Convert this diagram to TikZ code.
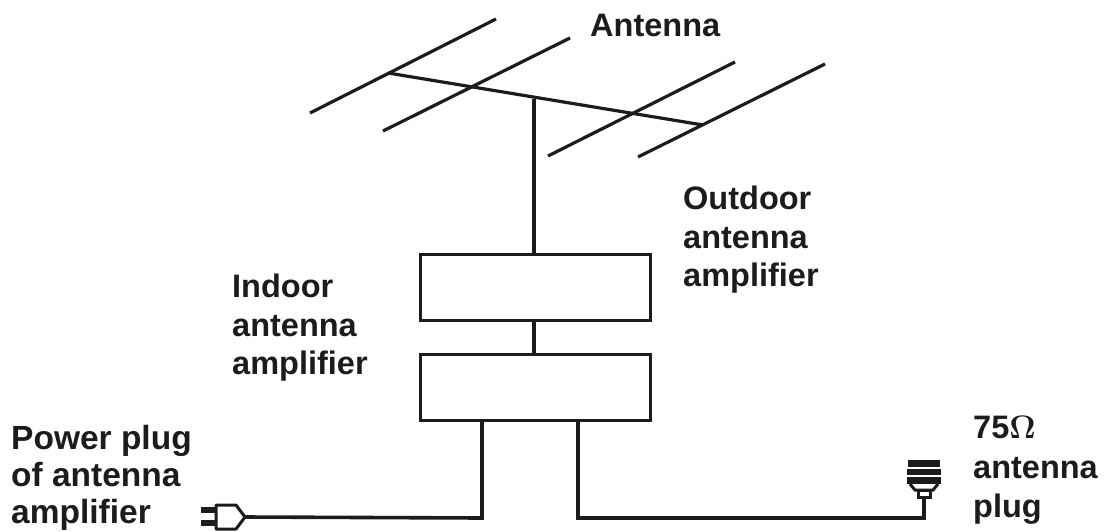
\documentclass[tikz,border=0pt]{standalone}
\usepackage{fontspec}
\setmainfont{Liberation Sans}
\newfontfamily\symfont{Latin Modern Roman}
\definecolor{ink}{HTML}{1C1C1C}
\tikzset{
  wire/.style={draw=ink,line width=3.2pt},
  feed/.style={draw=ink,line width=3.6pt},
  ampbox/.style={draw=ink,line width=3pt,minimum width=230pt,minimum height=66pt,inner sep=0pt},
  lbl/.style={font=\fontsize{32.5}{38.5}\selectfont\bfseries,text=ink,align=left,anchor=north west,inner sep=0pt},
  part/.style={draw=ink,line width=3pt,fill=white,line join=round},
}
\begin{document}
\begin{tikzpicture}[x=1pt,y=-1pt]
\useasboundingbox (0,0) rectangle (1104,531);
% antenna elements and boom
\coordinate (e1a) at (310,113); \coordinate (e1b) at (496,19);
\coordinate (e2a) at (383,131); \coordinate (e2b) at (570,38);
\coordinate (e3a) at (548,156); \coordinate (e3b) at (735,62);
\coordinate (e4a) at (638,157); \coordinate (e4b) at (825,64);
\coordinate (b1) at (388,73);   \coordinate (b2) at (703,125);
\coordinate (mastTop) at (534,99);
\draw[wire] (e1a) -- (e1b);
\draw[wire] (e2a) -- (e2b);
\draw[wire] (e3a) -- (e3b);
\draw[wire] (e4a) -- (e4b);
\draw[wire] (b1) -- (b2);
% amplifier boxes
\node[ampbox] (outamp) at (535,287) {};
\node[ampbox] (inamp) at (535,387) {};
\draw[feed] (mastTop) -- (mastTop |- outamp.north);
\draw[feed] (mastTop |- outamp.south) -- (mastTop |- inamp.north);
% power plug
\coordinate (pin1a) at (201,510); \coordinate (pin1b) at (216,510);
\coordinate (pin2a) at (201,523); \coordinate (pin2b) at (216,523);
\draw[draw=ink,line width=5.5pt] (pin1a) -- (pin1b);
\draw[draw=ink,line width=5.5pt] (pin2a) -- (pin2b);
\node[inner sep=0pt,minimum size=0pt] (plugtip) at (245,517) {};
\draw[part] (216,505) -- (236,505) -- (plugtip.center) -- (236,529) -- (216,529) -- cycle;
% coaxial plug
\coordinate (coaxTop) at (924,497);
\coordinate (plugCorner) at (924,518);
\fill[ink] (908,460) rectangle (940,467);
\fill[ink] (907,469) rectangle (941,475);
\fill[ink] (907,477) rectangle (941,484);
\draw[draw=ink,line width=3pt] (910,484) -- (915,490) -- (933,490) -- (938,484);
\draw[draw=ink,line width=3pt] (918,490) rectangle (930,497);
% cables
\coordinate (leftDrop) at (482,518);
\coordinate (rightDrop) at (578,518);
\draw[feed] (plugtip.center) -- (leftDrop) -- (leftDrop |- inamp.south);
\draw[feed,line join=miter] (rightDrop |- inamp.south) -- (rightDrop) -- (plugCorner) -- (coaxTop);
% labels
\node[lbl] (antenna) at (590,14) {Antenna};
\node[lbl] (outlbl) at (683,186) {Outdoor\\antenna\\amplifier};
\node[lbl] (inlbl) at (232,274) {Indoor\\antenna\\amplifier};
\node[lbl,font=\fontsize{33.5}{37}\selectfont\bfseries] (powerlbl) at (11,425) {Power plug\\of antenna\\amplifier};
\node[lbl,font=\fontsize{32.5}{39.5}\selectfont\bfseries] (coaxlbl) at (973,416) {75{\symfont\fontsize{32.5}{39.5}\selectfont\bfseries Ω}\\antenna\\plug};
\end{tikzpicture}
\end{document}
